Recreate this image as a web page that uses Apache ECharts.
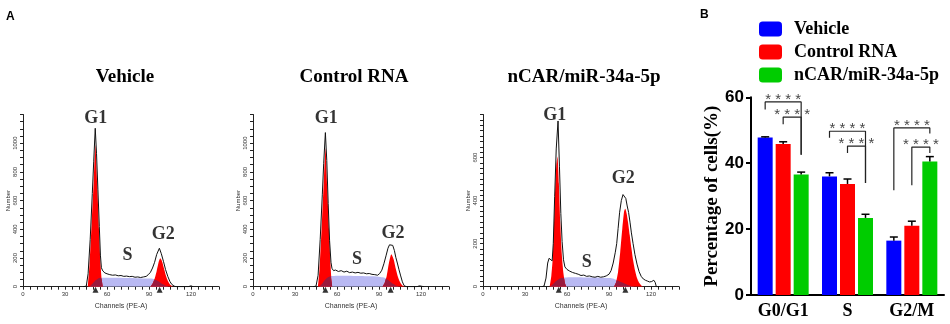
<!DOCTYPE html>
<html>
<head>
<meta charset="utf-8">
<script src="https://cdn.jsdelivr.net/npm/echarts@6/dist/echarts.min.js"></script>
<style>
html, body { margin: 0; padding: 0; background: #fff; }
#chart { width: 950px; height: 324px; }
</style>
</head>
<body>
<div id="chart"></div>
<script>
var serif = '"Liberation Serif", "Times New Roman", serif';
var sans = '"Liberation Sans", Arial, sans-serif';

// ---- panel A: histograms, [channel, number] ----
var vehicleOutline = [[43,0],[45.2,4],[46.5,90],[48,330],[49.5,650],[50.5,870],[51.6,1104],[52.5,930],[53.5,680],[54.5,420],[55.3,220],[56,132],[57,110],[58.5,96],[60,90],[62,84],[64,80],[66,82],[68,76],[70,78],[72,72],[74,74],[76,70],[78,72],[80,66],[82,68],[84,64],[86,68],[88,72],[89.5,84],[91,100],[92.5,130],[94,170],[95.5,225],[97.4,268],[98.8,230],[100.4,174],[101.8,120],[103.5,70],[105,35],[106.4,15],[108,4],[109.5,0],[118,0],[120,6],[121.5,0]];
var vehicleG1 = [[46.3,0],[47.5,150],[49,430],[50.5,730],[51.7,988],[53,720],[54.3,400],[55.3,170],[56.2,50],[57,0]];
var vehicleG2 = [[91,0],[92.5,20],[94,55],[95.5,110],[97,175],[98,198],[99.2,180],[100.6,130],[102,80],[103.5,40],[105,15],[106.5,4],[107.5,0]];
var vehicleS = [[47.5,0],[49.5,20],[51.5,42],[53.5,56],[56,62],[65,62],[75,60],[85,58],[91,57],[94,52],[96,42],[98,30],[100,17],[102,7],[104,0]];
var vehicleG1S = [[47.5,0],[49.5,20],[51.5,42],[53.5,56],[55.6,62],[56.2,50],[56.6,25],[57,0]];
var vehicleG2S = [[91,0],[92.5,20],[93.8,50],[94.2,52],[96,42],[98,30],[100,17],[102,7],[104,0]];
var vehicleMarks = [51.8, 97.6];
var vehicleLabels = [['G1', 52, 1176], ['S', 74.7, 218], ['G2', 100.2, 367]];

var controlOutline = [[43,0],[45,4],[46.5,80],[48,330],[49.5,640],[50.5,860],[51.7,1074],[52.7,880],[53.7,580],[54.7,320],[55.7,170],[56.4,128],[57.5,112],[59,116],[61,106],[63,112],[65,102],[67,108],[69,98],[71,102],[73,96],[75,100],[77,94],[79,96],[81,90],[83,92],[85,86],[87,84],[89,80],[90.5,92],[92,115],[93.5,160],[95,215],[96.4,268],[97.5,292],[98.6,302],[99.8,288],[101,252],[102,205],[103.1,165],[104.3,118],[105.5,75],[106.7,34],[107.9,8],[109.5,0],[117,0],[119,6],[120.5,3],[122,0]];
var controlG1 = [[46.4,0],[47.5,120],[49,400],[50.5,720],[51.8,965],[53,700],[54.3,400],[55.3,170],[56,50],[56.6,0]];
var controlG2 = [[92.5,0],[94,25],[95.5,75],[97,160],[98.8,226],[100.5,190],[102,125],[103.5,70],[105,32],[106.5,10],[108.4,0]];
var controlS = [[47.5,0],[49.5,22],[51.5,48],[53.5,66],[56,74],[65,76],[75,74],[85,72],[91,68],[94,62],[96,50],[98,35],[100,20],[102,9],[104.5,0]];
var controlG1S = [[47.5,0],[49.5,22],[51.5,48],[53.5,66],[55.5,73],[55.85,72],[56.2,35],[56.6,0]];
var controlG2S = [[92.5,0],[94,25],[95,56],[96,50],[98,35],[100,20],[102,9],[104.5,0]];
var controlMarks = [51.7, 98.3];
var controlLabels = [['G1', 52.4, 1174], ['S', 74.3, 193], ['G2', 100, 374]];

var ncarOutline = [[42,0],[43.6,3],[45,40],[46.2,110],[47.2,132],[48.4,135],[49.4,120],[50.2,200],[51.2,420],[52.3,640],[53.6,770],[54.6,560],[55.6,340],[56.5,210],[57.5,125],[58.5,92],[60,80],[62,72],[64,66],[66,62],[68,58],[70,52],[72,54],[74,48],[76,50],[78,46],[80,44],[82,48],[84,44],[86,46],[88,50],[90,58],[91.5,75],[93,110],[94.5,160],[95.5,200],[96.5,270],[97.6,346],[98.8,400],[100,428],[101,430],[102,410],[103,375],[104,345],[105,300],[106,250],[107.2,200],[108.5,150],[110,105],[111.5,70],[113,48],[114.5,36],[116,30],[117.5,26],[119,22],[120.5,24],[122,30],[123,20],[123.8,0],[126,0]];
var ncarG1 = [[47.6,0],[48.8,50],[50,150],[51.2,390],[52.3,560],[53.2,605],[54.2,480],[55.2,300],[56.3,150],[57.5,60],[58.6,15],[59.6,0]];
var ncarG2 = [[93.5,0],[95,20],[96.5,70],[98,160],[99.5,270],[100.8,350],[101.6,362],[102.6,340],[103.6,300],[104.8,240],[106,180],[107.3,120],[108.6,75],[110,40],[111.5,18],[113,6],[114.5,0]];
var ncarS = [[48,0],[50,12],[52,25],[54,35],[57,42],[65,44],[75,43],[85,42],[91,40],[94,35],[97,27],[100,18],[103,9],[106,3],[108,0]];
var ncarG1S = [[48,0],[50,12],[52,25],[54,35],[56,40],[57.4,42],[58.1,35],[58.6,15],[59.6,0]];
var ncarG2S = [[93.5,0],[95,20],[95.7,30],[97,27],[100,18],[103,9],[106,3],[108,0]];
var ncarMarks = [54.1, 101.7];
var ncarLabels = [['G1', 51.3, 795], ['S', 74.2, 112], ['G2', 100.2, 502]];

var panels = [
    {title: 'Vehicle', titleX: 125, yMax: 1200, yStep: 50, outline: vehicleOutline, g1: vehicleG1, g2: vehicleG2, s: vehicleS, g1s: vehicleG1S, g2s: vehicleG2S, marks: vehicleMarks, labels: vehicleLabels},
    {title: 'Control RNA', titleX: 354, yMax: 1200, yStep: 50, outline: controlOutline, g1: controlG1, g2: controlG2, s: controlS, g1s: controlG1S, g2s: controlG2S, marks: controlMarks, labels: controlLabels},
    {title: 'nCAR/miR-34a-5p', titleX: 584, yMax: 800, yStep: 25, outline: ncarOutline, g1: ncarG1, g2: ncarG2, s: ncarS, g1s: ncarG1S, g2s: ncarG2S, marks: ncarMarks, labels: ncarLabels}
];
var histLeft = [23, 253, 483];

// ---- panel B: bar chart ----
var groups = ['G0/G1', 'S', 'G2/M'];
var seriesNames = ['Vehicle', 'Control RNA', 'nCAR/miR-34a-5p'];
var seriesColors = ['#0000ff', '#ff0000', '#00cc00'];
var vehicleMean = [47.8, 36.0, 16.5];
var controlMean = [45.8, 33.7, 21.0];
var ncarMean = [36.6, 23.4, 40.5];
var vehicleSd = [0.2, 1.1, 1.1];
var controlSd = [0.7, 1.5, 1.4];
var ncarSd = [0.7, 1.1, 1.5];
var means = [vehicleMean, controlMean, ncarMean];
var sds = [vehicleSd, controlSd, ncarSd];
// [group, from bar, to bar, top, from end, to end]
var brackets = [
    [0, 0, 2, 58.6, 56.3, 42.6],
    [0, 1, 2, 54.0, 51.8, 42.6],
    [1, 0, 2, 49.7, 47.7, 34.0],
    [1, 1, 2, 45.2, 43.1, 34.0],
    [2, 0, 2, 50.7, 31.8, 49.0],
    [2, 1, 2, 44.9, 33.3, 43.1]
];
var stars = '* * * *';

var barWidth = 15;
var barStepPx = 18;
var barGrid = {left: 751, top: 97.3, width: 193, height: 197.7};
var barStep = barStepPx / (barGrid.width / groups.length);

var grid = [], xAxis = [], yAxis = [], series = [], graphic = [];

function area(i, data, color) {
    return {
        type: 'line', xAxisIndex: i, yAxisIndex: i, data: data,
        symbol: 'none', smooth: 0.2, silent: true, z: 2,
        lineStyle: {width: 0}, areaStyle: {color: color, opacity: 1}
    };
}

panels.forEach(function (p, i) {
    grid.push({left: histLeft[i], top: 114.5, width: 196, height: 172.2});
    xAxis.push({
        gridIndex: i, type: 'value', min: 0, max: 140, interval: 5,
        name: 'Channels (PE-A)', nameLocation: 'middle', nameGap: 9,
        nameTextStyle: {fontFamily: sans, fontSize: 7, color: '#333'},
        axisLine: {show: true, lineStyle: {color: '#222', width: 1}},
        axisTick: {show: true, length: 3, lineStyle: {color: '#222'}},
        axisLabel: {fontFamily: sans, fontSize: 6, color: '#333', margin: 5,
            formatter: function (v) { return (v % 30 === 0 && v <= 120) ? v : ''; }},
        splitLine: {show: false}
    });
    yAxis.push({
        gridIndex: i, type: 'value', min: 0, max: p.yMax, interval: p.yStep,
        name: 'Number', nameLocation: 'middle', nameGap: 12,
        nameTextStyle: {fontFamily: sans, fontSize: 6, color: '#333'},
        axisLine: {show: true, lineStyle: {color: '#222', width: 1}},
        axisTick: {show: true, length: 3, lineStyle: {color: '#222'}},
        axisLabel: {rotate: 90, fontFamily: sans, fontSize: 6, color: '#333', margin: 5,
            formatter: function (v) { return (v % 200 === 0 && v < p.yMax) ? v : ''; }},
        splitLine: {show: false}
    });
    series.push(area(i, p.s, '#b9b9f3'));
    series.push(area(i, p.g1, '#ff0000'));
    series.push(area(i, p.g2, '#ff0000'));
    series.push(area(i, p.g1s, '#9a1a3e'));
    series.push(area(i, p.g2s, '#9a1a3e'));
    series.push({
        type: 'line', xAxisIndex: i, yAxisIndex: i, data: p.outline,
        symbol: 'none', silent: true, z: 4,
        lineStyle: {color: '#111', width: 1}
    });
    series.push({
        type: 'scatter', xAxisIndex: i, yAxisIndex: i, clip: false, silent: true, z: 6,
        symbol: 'triangle', symbolSize: [6, 6], symbolOffset: [0, 3],
        itemStyle: {color: '#000'},
        data: p.marks.map(function (m) { return [m, 0]; })
    });
    series.push({
        type: 'scatter', xAxisIndex: i, yAxisIndex: i, clip: false, silent: true, z: 7,
        symbolSize: 1, itemStyle: {color: 'rgba(0,0,0,0)'},
        label: {show: true, position: 'inside', formatter: '{b}',
            fontFamily: serif, fontWeight: 'bold', fontSize: 18, color: '#000'},
        data: p.labels.map(function (l) { return {name: l[0], value: [l[1], l[2]]}; })
    });
    graphic.push({
        type: 'text', x: p.titleX, y: 77, silent: true,
        style: {text: p.title, font: 'bold 19px ' + serif, fill: '#000',
            align: 'center', verticalAlign: 'middle', textAlign: 'center', textVerticalAlign: 'middle'}
    });
});

graphic.push({type: 'text', x: 6, y: 17, silent: true,
    style: {text: 'A', font: 'bold 12px ' + sans, fill: '#000', verticalAlign: 'middle', textVerticalAlign: 'middle'}});
graphic.push({type: 'text', x: 700, y: 14.5, silent: true,
    style: {text: 'B', font: 'bold 12px ' + sans, fill: '#000', verticalAlign: 'middle', textVerticalAlign: 'middle'}});

// bar grid = index 3
grid.push(barGrid);
xAxis.push({
    gridIndex: 3, type: 'category', data: groups,
    axisLine: {show: true, onZero: false, lineStyle: {color: '#000', width: 2}},
    axisTick: {show: false},
    axisLabel: {interval: 0, fontFamily: serif, fontWeight: 'bold', fontSize: 18, color: '#000', margin: 7}
});
// hidden helper axis for the significance brackets
xAxis.push({gridIndex: 3, type: 'value', min: -0.5, max: 2.5, show: false,
    axisLine: {show: false, onZero: false}});
yAxis.push({
    gridIndex: 3, type: 'value', min: 0, max: 60, interval: 20,
    name: 'Percentage of cells(%)', nameLocation: 'middle', nameGap: 21,
    nameTextStyle: {fontFamily: serif, fontWeight: 'bold', fontSize: 19, color: '#000'},
    axisLine: {show: true, onZero: false, lineStyle: {color: '#000', width: 2}},
    axisTick: {show: true, length: 5, lineStyle: {color: '#000', width: 2}},
    axisLabel: {fontFamily: sans, fontWeight: 'bold', fontSize: 17, color: '#000', margin: 7},
    splitLine: {show: false}
});

function errorBar(offset) {
    return function (params, api) {
        var base = api.coord([api.value(0), api.value(1)]);
        var top = api.coord([api.value(0), api.value(1) + api.value(2)]);
        var x = base[0] + offset;
        var style = {stroke: '#000', lineWidth: 1.5};
        return {type: 'group', children: [
            {type: 'line', shape: {x1: x, y1: base[1], x2: x, y2: top[1]}, style: style},
            {type: 'line', shape: {x1: x - 4, y1: top[1], x2: x + 4, y2: top[1]}, style: style}
        ]};
    };
}

seriesNames.forEach(function (name, k) {
    series.push({
        type: 'bar', name: name, xAxisIndex: 3, yAxisIndex: 3,
        data: means[k], barWidth: barWidth, barGap: '20%',
        itemStyle: {color: seriesColors[k]}, z: 2
    });
    series.push({
        type: 'custom', xAxisIndex: 3, yAxisIndex: 3, z: 5, silent: true,
        renderItem: errorBar((k - 1) * barStepPx),
        encode: {x: 0, y: 1},
        data: means[k].map(function (m, g) { return [g, m, sds[k][g]]; })
    });
});

var starData = [];
brackets.forEach(function (b) {
    var x1 = b[0] + (b[1] - 1) * barStep;
    var x2 = b[0] + (b[2] - 1) * barStep;
    series.push({
        type: 'line', xAxisIndex: 4, yAxisIndex: 3, symbol: 'none', silent: true, z: 4,
        lineStyle: {color: '#222', width: 1.2},
        data: [[x1, b[4]], [x1, b[3]], [x2, b[3]], [x2, b[5]]]
    });
    starData.push([(x1 + x2) / 2, b[3]]);
});
series.push({
    type: 'scatter', xAxisIndex: 4, yAxisIndex: 3, clip: false, silent: true, z: 6,
    symbolSize: 1, itemStyle: {color: 'rgba(0,0,0,0)'},
    label: {show: true, position: 'inside', formatter: stars, offset: [0, -2.5],
        fontFamily: sans, fontSize: 15, color: '#111'},
    data: starData
});

var chart = echarts.init(document.getElementById('chart'));
chart.setOption({
    animation: false,
    backgroundColor: '#fff',
    legend: {
        data: seriesNames, orient: 'vertical', left: 759, top: 20, padding: 0,
        itemWidth: 23, itemHeight: 15, itemGap: 5, icon: 'roundRect',
        selectedMode: false,
        textStyle: {fontFamily: serif, fontWeight: 'bold', fontSize: 18, color: '#000',
            lineHeight: 15, padding: [0, 0, 0, 7]}
    },
    grid: grid,
    xAxis: xAxis,
    yAxis: yAxis,
    graphic: graphic,
    series: series
});
</script>
</body>
</html>
